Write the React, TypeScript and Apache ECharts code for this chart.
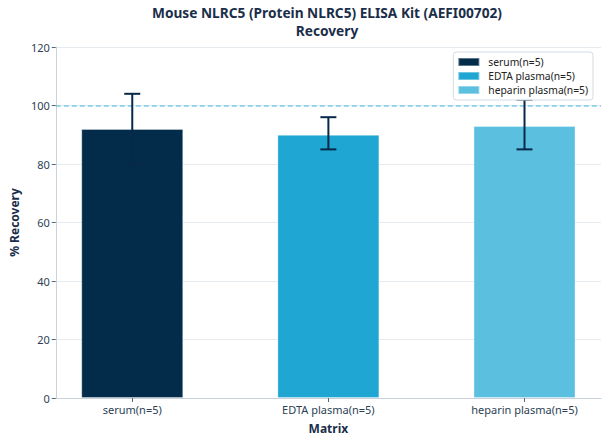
import React, { useEffect, useRef } from "react";
import * as echarts from "echarts";

const categories = ["serum(n=5)", "EDTA plasma(n=5)", "heparin plasma(n=5)"];
const recovery = [92, 90, 93];
const errLow = [80, 85, 85];
const errHigh = [104, 96, 102];
const barColors = ["#032b4a", "#1fa6d3", "#5bbfe0"];
const yTicks = [0, 20, 40, 60, 80, 100, 120];
const xRange = [-0.39, 2.39];
const refLineY = [100];
const titleLines = ["Mouse NLRC5 (Protein NLRC5) ELISA Kit (AEFI00702)", "Recovery"];

export default function App() {
  const ref = useRef<HTMLDivElement>(null);
  useEffect(() => {
    if (!ref.current) return;
    const chart = echarts.init(ref.current, undefined, { renderer: "svg" });
    const font = "Noto Sans";
    const textColor = "#2b3f55";
    const titleStyle = { fontFamily: font, fontSize: 13.7, fontWeight: "bold", color: "#1a2e4a", lineHeight: 16 };
    const barSeries = categories.map((name, i) => ({
      name,
      type: "bar",
      barWidth: 102,
      barGap: "-100%",
      data: [[i, recovery[i]]],
      itemStyle: { color: barColors[i], borderColor: "rgba(255,255,255,0.35)", borderWidth: 1 },
      z: 2,
    }));
    chart.setOption({
      animation: false,
      title: titleLines.map((t, i) => ({
        text: t,
        left: 327,
        textAlign: "center",
        top: 4 + i * 18,
        padding: 0,
        textStyle: titleStyle,
      })),
      legend: {
        orient: "vertical",
        right: 15,
        top: 52,
        icon: "rect",
        itemWidth: 21,
        itemHeight: 8,
        itemGap: 4,
        padding: [5, 5, 5, 4],
        borderColor: "#d5dce3",
        borderWidth: 1,
        borderRadius: 3,
        backgroundColor: "rgba(255,255,255,0.95)",
        textStyle: { fontFamily: font, fontSize: 10.3, color: "#222", padding: [0, 0, 0, 4] },
        data: categories,
        z: 10,
      },
      grid: { left: 53, right: 7, top: 47, bottom: 46 },
      xAxis: {
        type: "value",
        min: xRange[0],
        max: xRange[1],
        name: "Matrix",
        nameLocation: "middle",
        nameGap: 24,
        nameTextStyle: { fontFamily: font, fontSize: 12, fontWeight: "bold", color: "#1a2e4a" },
        axisLine: { show: true, onZero: false, lineStyle: { color: "#c9d2da" } },
        axisTick: { show: true, customValues: [0, 1, 2], length: 4, lineStyle: { color: "#556677" } },
        axisLabel: {
          customValues: [0, 1, 2],
          formatter: (v: number) => categories[Math.round(v)] ?? "",
          fontFamily: font,
          fontSize: 11,
          color: textColor,
          margin: 6,
        },
        splitLine: { show: false },
      },
      yAxis: {
        type: "value",
        min: 0,
        max: 120,
        interval: 20,
        name: "% Recovery",
        nameLocation: "middle",
        nameGap: 34,
        nameTextStyle: { fontFamily: font, fontSize: 12, fontWeight: "bold", color: "#1a2e4a" },
        axisLine: { show: true, onZero: false, lineStyle: { color: "#c9d2da" } },
        axisTick: { show: true, length: 4, lineStyle: { color: "#556677" } },
        axisLabel: {
          fontFamily: font,
          fontSize: 11,
          color: textColor,
          margin: 6,
          formatter: (v: number) => (yTicks.includes(v) ? String(v) : ""),
        },
        splitLine: { show: true, lineStyle: { color: "#e6ebf0" } },
      },
      series: [
        ...barSeries,
        {
          type: "custom",
          name: "ref",
          silent: true,
          z: 3,
          data: refLineY.map((y) => [0, y]),
          renderItem: (params: any, api: any) => {
            const y = api.value(1);
            const a = api.coord([xRange[0], y]);
            const b = api.coord([xRange[1], y]);
            return {
              type: "line",
              shape: { x1: a[0], y1: a[1] + 0.5, x2: b[0], y2: b[1] + 0.5 },
              style: { stroke: "#45b5e0", lineWidth: 1, lineDash: [5, 3] },
            };
          },
        },
        {
          type: "custom",
          name: "err",
          z: 5,
          data: categories.map((_, i) => [i, errLow[i], errHigh[i]]),
          renderItem: (params: any, api: any) => {
            const x = api.value(0);
            const lo = api.coord([x, api.value(1)]);
            const hi = api.coord([x, api.value(2)]);
            const half = 8;
            const style = { stroke: "#06294a", lineWidth: 2 };
            return {
              type: "group",
              children: [
                { type: "line", shape: { x1: lo[0], y1: lo[1], x2: hi[0], y2: hi[1] }, style },
                { type: "line", shape: { x1: hi[0] - half, y1: hi[1], x2: hi[0] + half, y2: hi[1] }, style },
                { type: "line", shape: { x1: lo[0] - half, y1: lo[1], x2: lo[0] + half, y2: lo[1] }, style },
              ],
            };
          },
        },
      ],
    });
    return () => chart.dispose();
  }, []);
  return <div ref={ref} style={{ position: "absolute", left: 0, top: 0, width: 608, height: 444 }} />;
}
